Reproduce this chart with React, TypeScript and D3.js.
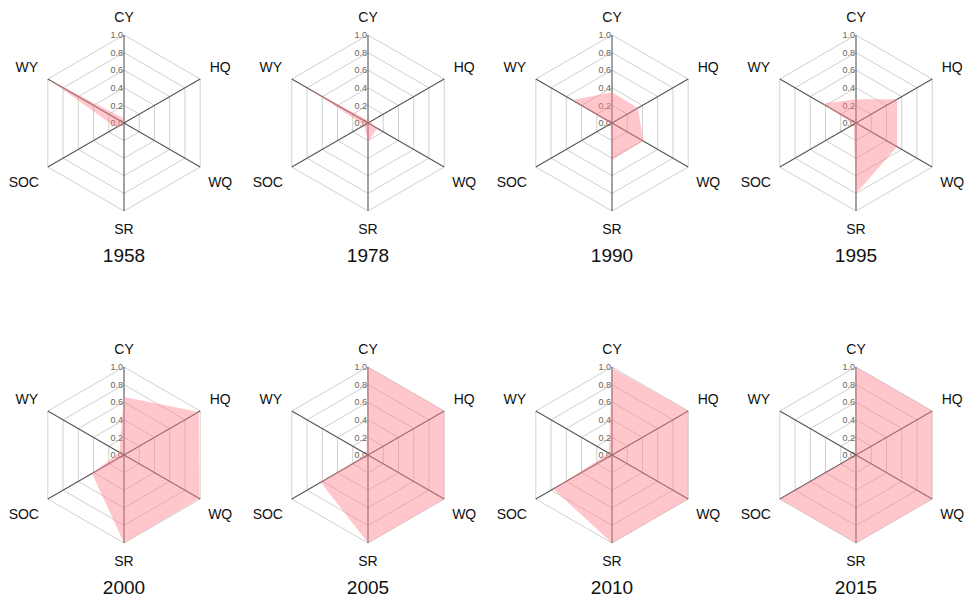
import { useEffect, useRef } from 'react'
import * as d3 from 'd3'

const axes = ['CY', 'HQ', 'WQ', 'SR', 'SOC', 'WY']
const years = ['1958', '1978', '1990', '1995', '2000', '2005', '2010', '2015']

// values per year, in axis order CY, HQ, WQ, SR, SOC, WY
const v1958 = [0.05, 0.0, 0.0, 0.02, 0.1, 1.0]
const v1978 = [0.03, 0.03, 0.12, 0.22, 0.05, 0.8]
const v1990 = [0.35, 0.34, 0.41, 0.42, 0.02, 0.52]
const v1995 = [0.27, 0.54, 0.54, 0.8, 0.03, 0.44]
const v2000 = [0.66, 0.98, 0.99, 1.0, 0.42, 0.06]
const v2005 = [1.0, 1.0, 1.0, 1.0, 0.62, 0.02]
const v2010 = [0.99, 1.0, 1.0, 1.0, 0.77, 0.04]
const v2015 = [1.0, 1.0, 1.0, 1.0, 1.0, 0.0]

const series = [v1958, v1978, v1990, v1995, v2000, v2005, v2010, v2015]
const ticks = [0, 0.2, 0.4, 0.6, 0.8, 1.0]

const App = () => {
  const ref = useRef(null)

  useEffect(() => {
    const width = 969
    const height = 601
    const R = 88
    const colX = [124, 368, 612, 856]
    const rowY = [123, 455]

    const svg = d3.select(ref.current)
    svg.selectAll('*').remove()
    svg.attr('width', width).attr('height', height)

    const r = d3.scaleLinear().domain([0, 1]).range([0, R])
    const angle = (i) => (i * 2 * Math.PI) / axes.length

    const radial = d3.lineRadial()
      .angle((d, i) => angle(i))
      .radius(d => r(d))
      .curve(d3.curveLinearClosed)

    const labelOff = [[0, -18], [20, -12], [20, 15], [0, 18], [-24, 15], [-21, -12]]

    series.forEach((vals, k) => {
      const cx = colX[k % 4]
      const cy = rowY[Math.floor(k / 4)]
      const g = svg.append('g').attr('transform', `translate(${cx},${cy})`)

      // grid rings
      ticks.slice(1).forEach(t => {
        g.append('path')
          .attr('d', radial(axes.map(() => t)))
          .attr('fill', 'none')
          .attr('stroke', '#d0d0d0')
          .attr('stroke-width', 1)
      })

      // spokes
      axes.forEach((a, i) => {
        g.append('line')
          .attr('x1', 0).attr('y1', 0)
          .attr('x2', r(1) * Math.sin(angle(i)))
          .attr('y2', -r(1) * Math.cos(angle(i)))
          .attr('stroke', '#555')
          .attr('stroke-width', 1.1)
      })

      // tick labels on CY axis
      ticks.forEach(t => {
        g.append('text')
          .attr('x', -1)
          .attr('y', -r(t))
          .attr('dy', '0.35em')
          .attr('text-anchor', 'end')
          .attr('font-family', 'Liberation Sans, Arial, sans-serif')
          .attr('font-size', 9)
          .attr('fill', '#666')
          .text(t.toFixed(1))
      })

      // data polygon
      g.append('path')
        .attr('d', radial(vals))
        .attr('fill', 'rgb(255,130,140)')
        .attr('fill-opacity', 0.45)
        .attr('stroke', 'none')

      // axis labels
      axes.forEach((a, i) => {
        g.append('text')
          .attr('x', r(1) * Math.sin(angle(i)) + labelOff[i][0])
          .attr('y', -r(1) * Math.cos(angle(i)) + labelOff[i][1])
          .attr('dy', '0.35em')
          .attr('text-anchor', 'middle')
          .attr('font-family', 'Liberation Sans, Arial, sans-serif')
          .attr('font-size', 14)
          .attr('fill', '#111')
          .text(a)
      })

      g.append('text')
        .attr('x', 0)
        .attr('y', 132)
        .attr('dy', '0.35em')
        .attr('text-anchor', 'middle')
        .attr('font-family', 'Liberation Sans, Arial, sans-serif')
        .attr('font-size', 19)
        .attr('fill', '#111')
        .text(years[k])
    })
  }, [])

  return (
    <svg ref={ref} style={{ position: 'absolute', left: 0, top: 0, background: '#fff' }}></svg>
  )
}

export default App
